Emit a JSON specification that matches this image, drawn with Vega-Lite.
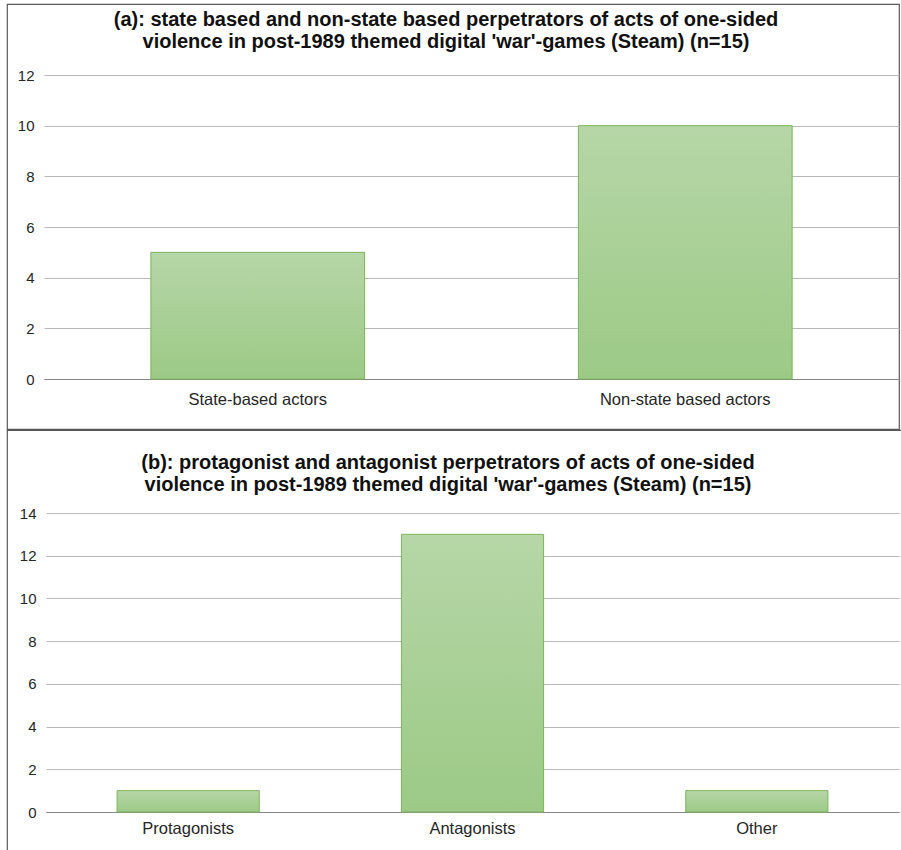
{
  "$schema": "https://vega.github.io/schema/vega-lite/v6.json",
  "background": "white",
  "padding": {"left": 6, "top": 3, "right": 0, "bottom": 0},
  "spacing": -4,
  "config": {
    "font": "Liberation Sans",
    "view": {"stroke": "#595959", "strokeWidth": 1.2},
    "axis": {"labelFont": "Liberation Sans", "labelFontSize": 16.5, "labelColor": "#262626", "ticks": false, "title": null},
    "title": {"font": "Liberation Sans", "fontSize": 20, "fontWeight": "bold", "color": "#111", "lineHeight": 22, "anchor": "middle", "frame": "bounds", "dx": -7}
  },
  "vconcat": [
    {
      "title": {"text": ["(a): state based and non-state based perpetrators of acts of one-sided", "violence in post-1989 themed digital 'war'-games (Steam) (n=15)"], "offset": -48},
      "width": 892,
      "height": 425,
      "data": {"values": [
        {"actor": "State-based actors", "count": 5},
        {"actor": "Non-state based actors", "count": 10}
      ]},
      "mark": {"type": "bar", "color": {"gradient": "linear", "x1": 0, "y1": 0, "x2": 0, "y2": 1, "stops": [{"offset": 0, "color": "#b6d6a7"}, {"offset": 1, "color": "#9cca86"}]}, "stroke": "#7cb45c", "strokeWidth": 1},
      "encoding": {
        "x": {"field": "actor", "type": "nominal", "sort": null, "scale": {"paddingInner": 0.5, "paddingOuter": 0.25, "range": [37, 892]},
              "axis": {"labelAngle": 0, "labelPadding": 12, "offset": -50, "domainColor": "#868686", "domainWidth": 1.2}},
        "y": {"field": "count", "type": "quantitative", "scale": {"domain": [0, 12], "range": [375, 71]},
              "axis": {"values": [0, 2, 4, 6, 8, 10, 12], "domain": false, "offset": -37, "gridColor": "#b8b8b8", "gridWidth": 1.2, "labelPadding": 10, "labelFontSize": 15}}
      }
    },
    {
      "title": {"text": ["(b): protagonist and antagonist perpetrators of acts of one-sided", "violence in post-1989 themed digital 'war'-games (Steam) (n=15)"], "offset": -65},
      "width": 896,
      "height": 424,
      "data": {"values": [
        {"role": "Protagonists", "count": 1},
        {"role": "Antagonists", "count": 13},
        {"role": "Other", "count": 1}
      ]},
      "mark": {"type": "bar", "color": {"gradient": "linear", "x1": 0, "y1": 0, "x2": 0, "y2": 1, "stops": [{"offset": 0, "color": "#b6d6a7"}, {"offset": 1, "color": "#9cca86"}]}, "stroke": "#7cb45c", "strokeWidth": 1},
      "encoding": {
        "x": {"field": "role", "type": "nominal", "sort": null, "scale": {"paddingInner": 0.5, "paddingOuter": 0.25, "range": [39, 892]},
              "axis": {"labelAngle": 0, "labelPadding": 8, "offset": -42, "domainColor": "#868686", "domainWidth": 1.2}},
        "y": {"field": "count", "type": "quantitative", "scale": {"domain": [0, 14], "range": [382, 83]},
              "axis": {"values": [0, 2, 4, 6, 8, 10, 12, 14], "domain": false, "offset": -39, "gridColor": "#b8b8b8", "gridWidth": 1.2, "labelPadding": 10, "labelFontSize": 15}}
      }
    }
  ]
}
